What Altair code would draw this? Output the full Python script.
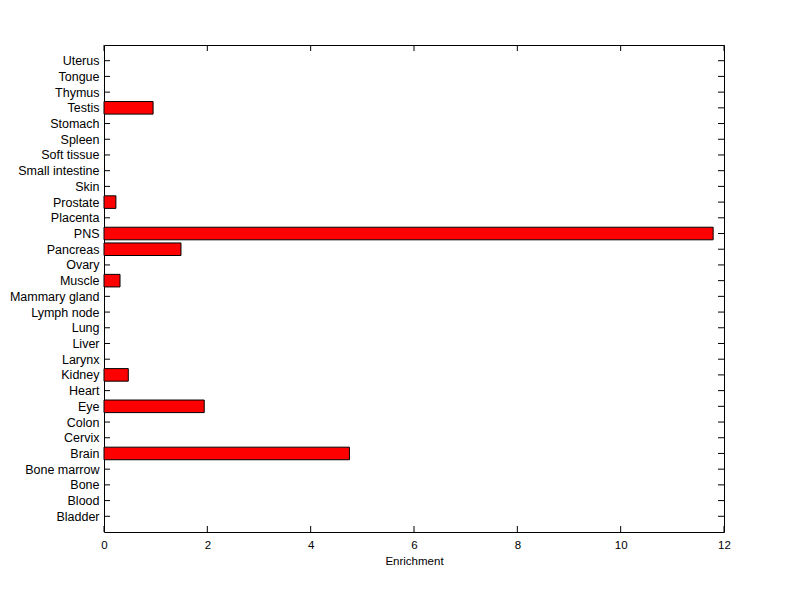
import json
import altair as alt
import pandas as pd

categories = ["Bladder", "Blood", "Bone", "Bone marrow", "Brain", "Cervix", "Colon",
              "Eye", "Heart", "Kidney", "Larynx", "Liver", "Lung", "Lymph node",
              "Mammary gland", "Muscle", "Ovary", "Pancreas", "PNS", "Placenta",
              "Prostate", "Skin", "Small intestine", "Soft tissue", "Spleen",
              "Stomach", "Testis", "Thymus", "Tongue", "Uterus"]
values = [0, 0, 0, 0, 4.75, 0, 0, 1.94, 0, 0.47, 0, 0, 0, 0, 0, 0.31, 0, 1.49,
          11.79, 0, 0.23, 0, 0, 0, 0, 0, 0.95, 0, 0, 0]
x_ticks = [0, 2, 4, 6, 8, 10, 12]

W, H = 620, 487
FONT = "Liberation Sans"

idx = list(range(1, len(categories) + 1))
df = pd.DataFrame({"cat": categories, "val": values, "idx": idx})
df["lo"] = df["idx"] - 0.4
df["hi"] = df["idx"] + 0.4
bars_df = df[df["val"] > 0]

xscale = alt.Scale(domain=[0, 12], nice=False, zero=False)
yscale = alt.Scale(domain=[0, len(categories) + 1], nice=False, zero=False)

label_expr = json.dumps(categories) + "[datum.value - 1]"

xaxis = alt.Axis(values=x_ticks, ticks=False, domain=False, grid=False,
                 labelPadding=7, titlePadding=5, title="Enrichment",
                 labelFlush=False, labelOverlap=False,
                 labelFont=FONT, titleFont=FONT, labelFontSize=11.5, titleFontSize=11.5,
                 titleFontWeight="normal", labelColor="black", titleColor="black")
yaxis = alt.Axis(values=idx, ticks=False, domain=False, grid=False, title=None,
                 labelExpr=label_expr, labelPadding=5, labelFont=FONT,
                 labelFlush=False, labelOverlap=False,
                 labelFontSize=12.5, labelColor="black")

tick_df = pd.DataFrame({"idx": idx})
left_ticks = alt.Chart(tick_df).mark_rule(color="black", strokeWidth=1).encode(
    y=alt.Y("idx:Q", scale=yscale, axis=yaxis), x=alt.value(0), x2=alt.value(6))
right_ticks = alt.Chart(tick_df).mark_rule(color="black", strokeWidth=1).encode(
    y=alt.Y("idx:Q", scale=yscale, axis=yaxis), x=alt.value(W - 6), x2=alt.value(W))

xt_df = pd.DataFrame({"xt": x_ticks})
bottom_ticks = alt.Chart(xt_df).mark_rule(color="black", strokeWidth=1).encode(
    x=alt.X("xt:Q", scale=xscale, axis=xaxis), y=alt.value(H - 6), y2=alt.value(H))
top_ticks = alt.Chart(xt_df).mark_rule(color="black", strokeWidth=1).encode(
    x=alt.X("xt:Q", scale=xscale, axis=xaxis), y=alt.value(0), y2=alt.value(6))

bars = alt.Chart(bars_df).transform_calculate(zero="0").mark_rect(
    fill="#ff0000", stroke="black", strokeWidth=1).encode(
    x=alt.X("val:Q", scale=xscale, axis=xaxis),
    x2=alt.X2("zero:Q"),
    y=alt.Y("lo:Q", scale=yscale, axis=yaxis),
    y2="hi:Q",
)

chart = alt.layer(left_ticks, right_ticks, bottom_ticks, top_ticks, bars).properties(
    width=W, height=H,
    autosize=alt.AutoSizeParams(type="none"),
    padding={"left": 96, "top": 37, "right": 60, "bottom": 50},
    background="white",
).configure_view(stroke="black", strokeWidth=1)

chart.save("out.html", embed_options={"renderer": "svg", "actions": False})
